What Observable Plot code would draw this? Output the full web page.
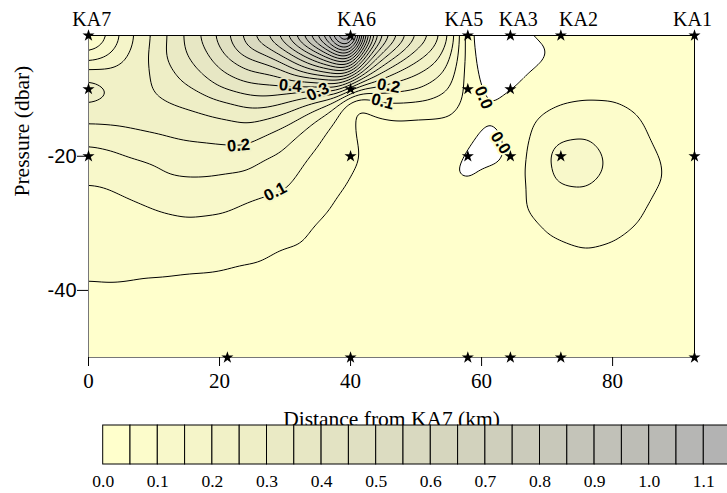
<!DOCTYPE html>
<html>
<head>
<meta charset="utf-8">
<script src="https://cdn.jsdelivr.net/npm/d3@7"></script>
<script src="https://cdn.jsdelivr.net/npm/@observablehq/plot@0.6"></script>
<style>
html, body { margin: 0; padding: 0; background: #fff; width: 727px; height: 493px; overflow: hidden; }
#chart { position: relative; width: 727px; height: 493px; }
#chart svg { display: block; max-width: none; }
#legend { position: absolute; left: 0; top: 410px; }
</style>
</head>
<body>
<div id="chart"><div id="main"></div><div id="legend"></div></div>
<script>
// ---- grid of values read from the section (km from KA7, pressure in dbar) ----
const distances = [0, 3, 6, 9, 12, 15, 18, 21, 24, 27, 30, 33, 36, 38, 40, 42, 44, 47, 50, 53, 56, 58, 61, 64.4, 68, 72, 76, 80, 86, 92.5];
const pressures = [-2, -4, -6, -8, -10, -12, -14, -16, -18, -20, -23, -26, -30, -34, -38, -42, -46, -50];

const v02 = [0.02, 0.098, 0.18, 0.24, 0.298, 0.36, 0.425, 0.49, 0.57, 0.65, 0.755, 0.88, 1.04, 1.2, 1.38, 0.85, 0.6, 0.47, 0.355, 0.28, 0.16, -0.006, -0.03, 0.002, 0.005, 0.012, 0.02, 0.025, 0.028, 0.03];
const v04 = [0.08, 0.125, 0.19, 0.245, 0.305, 0.355, 0.402, 0.47, 0.54, 0.585, 0.66, 0.77, 0.88, 1.01, 1.1, 0.7, 0.51, 0.39, 0.302, 0.24, 0.14, 0.004, -0.028, -0.03, -0.015, 0.01, 0.022, 0.027, 0.029, 0.03];
const v06 = [0.148, 0.17, 0.21, 0.245, 0.302, 0.34, 0.38, 0.43, 0.475, 0.502, 0.56, 0.64, 0.72, 0.78, 0.83, 0.53, 0.41, 0.31, 0.245, 0.202, 0.12, 0.012, -0.025, -0.025, -0.006, 0.015, 0.026, 0.03, 0.03, 0.03];
const v08 = [0.245, 0.225, 0.22, 0.245, 0.28, 0.32, 0.355, 0.395, 0.43, 0.44, 0.47, 0.525, 0.56, 0.57, 0.56, 0.352, 0.29, 0.23, 0.198, 0.16, 0.102, 0.02, -0.02, -0.015, 0.008, 0.025, 0.032, 0.035, 0.032, 0.03];
const v10 = [0.275, 0.254, 0.232, 0.245, 0.265, 0.29, 0.32, 0.352, 0.37, 0.38, 0.378, 0.355, 0.355, 0.39, 0.24, 0.18, 0.18, 0.165, 0.153, 0.12, 0.085, 0.025, -0.012, -0.002, 0.02, 0.035, 0.04, 0.042, 0.035, 0.031];
const v12 = [0.258, 0.245, 0.235, 0.238, 0.248, 0.258, 0.28, 0.298, 0.32, 0.325, 0.298, 0.265, 0.22, 0.151, 0.046, 0.045, 0.093, 0.099, 0.094, 0.085, 0.068, 0.026, -0.004, 0.01, 0.035, 0.048, 0.052, 0.051, 0.038, 0.032];
const v14 = [0.22, 0.22, 0.22, 0.225, 0.232, 0.24, 0.245, 0.255, 0.27, 0.262, 0.24, 0.197, 0.14, 0.103, 0.048, 0.043, 0.044, 0.055, 0.052, 0.053, 0.047, 0.02, 0.003, 0.015, 0.045, 0.062, 0.07, 0.062, 0.042, 0.034];
const v16 = [0.185, 0.19, 0.198, 0.205, 0.21, 0.22, 0.225, 0.23, 0.235, 0.215, 0.19, 0.148, 0.108, 0.08, 0.051, 0.043, 0.04, 0.038, 0.035, 0.033, 0.03, 0.012, -0.008, 0.01, 0.055, 0.08, 0.09, 0.072, 0.046, 0.036];
const v18 = [0.152, 0.16, 0.17, 0.18, 0.19, 0.195, 0.198, 0.203, 0.205, 0.183, 0.157, 0.127, 0.092, 0.072, 0.055, 0.045, 0.036, 0.033, 0.03, 0.027, 0.022, 0.004, -0.015, 0.005, 0.066, 0.105, 0.108, 0.082, 0.048, 0.038];
const v20 = [0.135, 0.14, 0.152, 0.16, 0.17, 0.18, 0.18, 0.18, 0.18, 0.153, 0.14, 0.105, 0.082, 0.066, 0.058, 0.048, 0.035, 0.031, 0.028, 0.022, 0.012, -0.012, -0.012, 0.001, 0.073, 0.12, 0.125, 0.088, 0.052, 0.04];
const v23 = [0.105, 0.11, 0.12, 0.13, 0.148, 0.152, 0.151, 0.145, 0.14, 0.125, 0.115, 0.088, 0.068, 0.058, 0.049, 0.044, 0.034, 0.03, 0.027, 0.02, -0.003, -0.004, 0.01, 0.018, 0.071, 0.112, 0.115, 0.087, 0.053, 0.041];
const v26 = [0.092, 0.093, 0.101, 0.108, 0.115, 0.12, 0.12, 0.115, 0.105, 0.098, 0.095, 0.075, 0.057, 0.049, 0.044, 0.04, 0.033, 0.03, 0.027, 0.024, 0.02, 0.015, 0.02, 0.028, 0.062, 0.085, 0.09, 0.078, 0.049, 0.04];
const v30 = [0.078, 0.08, 0.083, 0.087, 0.092, 0.095, 0.092, 0.09, 0.085, 0.075, 0.07, 0.055, 0.045, 0.042, 0.038, 0.036, 0.032, 0.03, 0.028, 0.026, 0.024, 0.022, 0.025, 0.032, 0.047, 0.06, 0.068, 0.062, 0.044, 0.037];
const v34 = [0.066, 0.067, 0.068, 0.07, 0.072, 0.072, 0.068, 0.065, 0.058, 0.054, 0.047, 0.045, 0.038, 0.037, 0.035, 0.034, 0.031, 0.03, 0.029, 0.027, 0.026, 0.025, 0.027, 0.031, 0.038, 0.044, 0.049, 0.045, 0.038, 0.034];
const v38 = [0.051, 0.052, 0.051, 0.049, 0.048, 0.046, 0.046, 0.044, 0.043, 0.042, 0.04, 0.038, 0.035, 0.034, 0.033, 0.032, 0.03, 0.03, 0.029, 0.028, 0.027, 0.027, 0.028, 0.03, 0.033, 0.035, 0.038, 0.037, 0.034, 0.032];
const v42 = [0.042, 0.042, 0.042, 0.041, 0.04, 0.04, 0.039, 0.038, 0.037, 0.036, 0.035, 0.034, 0.033, 0.033, 0.032, 0.031, 0.03, 0.03, 0.029, 0.028, 0.028, 0.028, 0.028, 0.029, 0.03, 0.031, 0.032, 0.032, 0.031, 0.03];
const v46 = [0.036, 0.036, 0.036, 0.036, 0.035, 0.035, 0.035, 0.034, 0.034, 0.034, 0.033, 0.033, 0.032, 0.032, 0.031, 0.03, 0.03, 0.029, 0.029, 0.028, 0.028, 0.028, 0.028, 0.028, 0.029, 0.029, 0.03, 0.03, 0.03, 0.029];
const v50 = [0.033, 0.033, 0.033, 0.033, 0.033, 0.033, 0.033, 0.032, 0.032, 0.032, 0.032, 0.032, 0.031, 0.031, 0.03, 0.03, 0.03, 0.029, 0.029, 0.028, 0.028, 0.028, 0.028, 0.028, 0.028, 0.028, 0.029, 0.029, 0.029, 0.028];

// ---- stations and sample positions ----
const stationNames = ["KA7", "KA6", "KA5", "KA3", "KA2", "KA1"];
const stationLabelKm = [0.5, 40.9, 57.3, 65.6, 74.8, 92.2];
const sampleKm = [0, 0, 0, 21.2, 40, 40, 40, 40, 57.9, 57.9, 57.9, 57.9, 64.4, 64.4, 64.4, 64.4, 72.1, 72.1, 72.1, 92.5, 92.5, 92.5];
const samplePressure = [-2, -10, -20, -50, -2, -10, -20, -50, -2, -10, -20, -50, -2, -10, -20, -50, -2, -20, -50, -2, -20, -50];

// ---- contour labels ----
const labelText = ["0.4", "0.3", "0.2", "0.1", "0.2", "0.1", "0.0", "0.0"];
const labelValue = [0.4, 0.3, 0.2, 0.1, 0.2, 0.1, 0, 0];
const labelKm = [30.8, 35.0, 45.8, 44.9, 22.9, 28.5, 60.3, 62.9];
const labelPressure = [-9.5, -10.4, -9.5, -11.85, -18.4, -25.3, -11.25, -18.0];
const labelAngle = [5, -25, 10, 15, -5, -28, 68, 58];

// ---- scales / ticks ----
const contourLevels = [0, 0.05, 0.1, 0.15, 0.2, 0.25, 0.3, 0.35, 0.4, 0.45, 0.5, 0.55, 0.6, 0.65, 0.7, 0.75, 0.8, 0.85, 0.9, 0.95, 1.0, 1.05, 1.1, 1.15, 1.2, 1.25, 1.3, 1.35];
const legendLevels = [0, 0.05, 0.1, 0.15, 0.2, 0.25, 0.3, 0.35, 0.4, 0.45, 0.5, 0.55, 0.6, 0.65, 0.7, 0.75, 0.8, 0.85, 0.9, 0.95, 1.0, 1.05, 1.1, 1.15];
const legendStep = 0.05;
const legendTicks = [0, 0.1, 0.2, 0.3, 0.4, 0.5, 0.6, 0.7, 0.8, 0.9, 1.0, 1.1];
const xDomain = [0, 92.5];
const yDomain = [-50, -2];
const xTicks = [0, 20, 40, 60, 80];
const yTicks = [-20, -40];

const rows = [v02, v04, v06, v08, v10, v12, v14, v16, v18, v20, v23, v26, v30, v34, v38, v42, v46, v50];
const grid = pressures.flatMap((p, i) => distances.map((x, j) => ({x, p, v: rows[i][j]})));
const samples = sampleKm.map((x, i) => ({x, p: samplePressure[i]}));
const labels = labelText.map((t, i) => ({t, v: labelValue[i], x: labelKm[i], p: labelPressure[i], a: labelAngle[i]}));

const SERIF = "Liberation Serif";
const SANS = "Liberation Sans";
const colorScale = {type: "linear", domain: [0, 1.1], range: ["#ffffcc", "#b3b3b3"]};

const contourOpts = {x: "x", y: "p", value: "v", interpolate: "barycentric", thresholds: contourLevels, blur: 7, pixelSize: 1};

const main = Plot.plot({
  width: 727, height: 432,
  marginTop: 35, marginRight: 33, marginBottom: 75, marginLeft: 88,
  x: {domain: xDomain},
  y: {domain: yDomain},
  color: colorScale,
  style: {background: "transparent", fontFamily: SERIF},
  marks: [
    Plot.contour(grid, {...contourOpts, fill: "value", stroke: "none"}),
    Plot.contour(grid, {...contourOpts, fill: "none", stroke: "black", strokeWidth: 1}),
    Plot.ruleX([xDomain[0]], {stroke: "#777"}),
    Plot.ruleY([yDomain[0]], {stroke: "#777"}),
    Plot.ruleY([yDomain[1]], {stroke: "black"}),
    Plot.ruleX([xDomain[1]], {stroke: "black"}),
    Plot.axisX({ticks: xTicks, tickSize: 9, tickPadding: 7, tickFormat: d => String(d), fontSize: 21, fontFamily: SERIF, label: null}),
    Plot.axisY({ticks: yTicks, tickSize: 11, tickPadding: 1, tickFormat: d => String(d), fontSize: 20, fontFamily: SANS, label: null}),
    Plot.text(labels, {x: "x", y: "p", text: "t", rotate: "a", stroke: "v", fill: "black", strokeWidth: 4, paintOrder: "stroke",
      fontSize: 16.5, fontWeight: "bold", fontFamily: SANS}),
    Plot.dot(samples, {x: "x", y: "p", symbol: "star", fill: "black", stroke: "none", r: 3.8}),
    Plot.text(stationNames, {x: (d, i) => stationLabelKm[i], y: () => yDomain[1], text: d => d, dy: -10, lineAnchor: "bottom",
      fontSize: 20, fontFamily: SERIF, fill: "black"}),
    Plot.text(["Distance from KA7 (km)"], {frameAnchor: "bottom", text: d => d, dy: 68, lineAnchor: "bottom", fontSize: 21.5, fontFamily: SERIF, fill: "black"}),
    Plot.text(["Pressure (dbar)"], {frameAnchor: "left", text: d => d, dx: -60, rotate: -90, lineAnchor: "bottom", fontSize: 21.5, fontFamily: SERIF, fill: "black"})
  ]
});
document.getElementById("main").appendChild(main);

const legend = Plot.plot({
  width: 727, height: 83,
  marginTop: 15, marginBottom: 29, marginLeft: 0, marginRight: 0,
  x: {domain: [0, 1.15], range: [102.7, 730.6]},
  color: colorScale,
  style: {background: "transparent", fontFamily: SERIF},
  marks: [
    Plot.rect(legendLevels, {x1: d => d, x2: d => d + legendStep, fill: d => d, stroke: "black", strokeWidth: 1}),
    Plot.axisX({ticks: legendTicks, tickSize: 0, tickPadding: 10, tickFormat: d => d.toFixed(1), fontSize: 17.5, fontFamily: SERIF, label: null})
  ]
});
document.getElementById("legend").appendChild(legend);
</script>
</body>
</html>
